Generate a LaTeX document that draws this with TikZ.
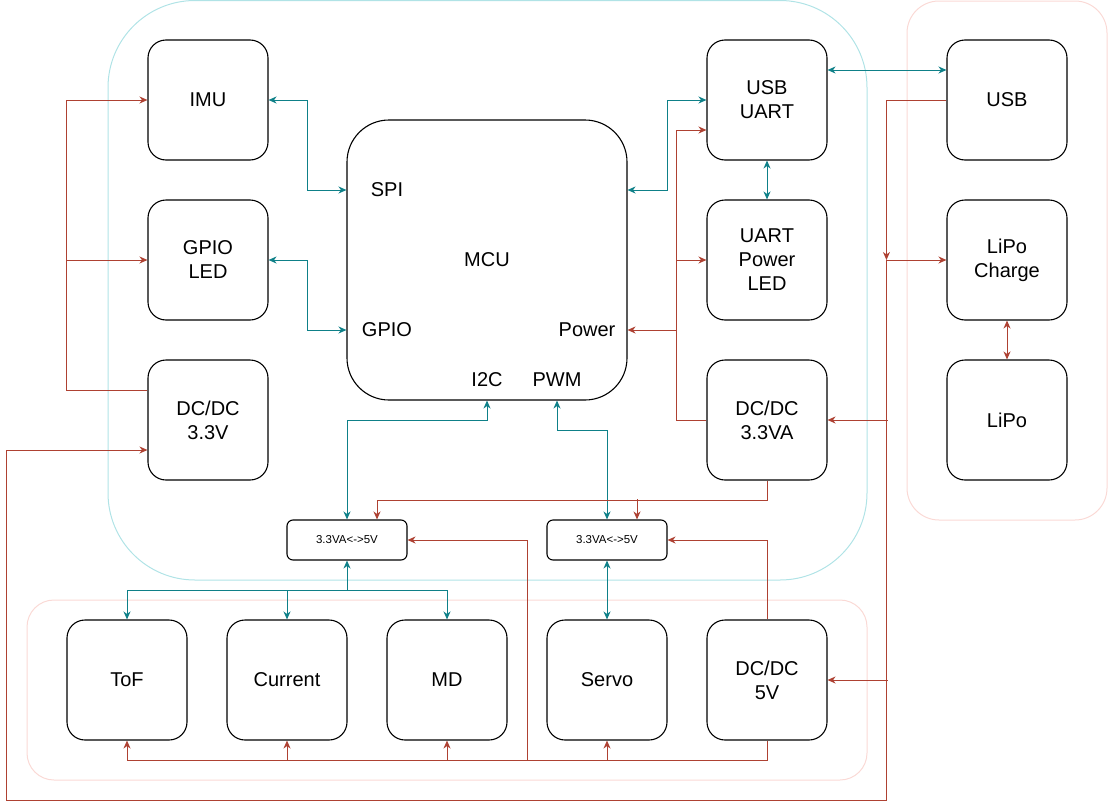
\documentclass[tikz,border=0pt]{standalone}
\usepackage{fontspec}
\setmainfont{Liberation Sans}
\usetikzlibrary{arrows.meta,calc}
\definecolor{tealc}{HTML}{0E8088}
\definecolor{redc}{HTML}{AE4132}
\definecolor{cyanbg}{HTML}{B0E3E6}
\definecolor{pinkbg}{HTML}{FAD9D5}
\tikzset{
  dio/.tip={Stealth[length=8pt,width=7pt,inset=2.5pt]},
  box/.style={draw=black, line width=1.1pt, rounded corners=18pt, minimum width=120pt, minimum height=120pt, inner sep=0pt, align=center, font=\fontsize{20}{24}\selectfont},
  lsbox/.style={box, minimum height=40pt, rounded corners=6pt, font=\fontsize{11.5}{14}\selectfont},
  mcubox/.style={box, minimum width=280pt, minimum height=280pt, rounded corners=42pt},
  lbl/.style={inner sep=0pt, font=\fontsize{20}{24}\selectfont},
  cont/.style={line width=1pt},
  tl/.style={draw=tealc, line width=1pt},
  tlb/.style={tl, dio-dio},
  tle/.style={tl, -dio},
  rd/.style={draw=redc, line width=1pt},
  rde/.style={rd, -dio},
  rdb/.style={rd, dio-dio},
}
\begin{document}
\begin{tikzpicture}[x=1pt,y=-1pt]
\useasboundingbox (0,0) rectangle (1108,811);
% containers
\draw[cont, draw=cyanbg, rounded corners=87pt] (108,0.5) rectangle (867,580);
\draw[cont, draw=pinkbg, rounded corners=32pt] (907,1) rectangle (1107,520);
\draw[cont, draw=pinkbg, rounded corners=27pt] (27,600) rectangle (867,780);
% boxes
\node[box] (imu) at (208,100) {IMU};
\node[box] (gpio) at (208,260) {GPIO\\LED};
\node[box] (dc33) at (208,420) {DC/DC\\3.3V};
\node[mcubox] (mcu) at (487,260) {MCU};
\node[lbl] (spi) at (387,190) {SPI};
\node[lbl] (gpiol) at (387,330) {GPIO};
\node[lbl] (pwr) at (587,330) {Power};
\node[lbl] (i2c) at (487,380) {I2C};
\node[lbl] (pwm) at (557,380) {PWM};
\node[box] (usbuart) at (767,100) {USB\\UART};
\node[box] (upl) at (767,260) {UART\\Power\\LED};
\node[box] (dc33a) at (767,420) {DC/DC\\3.3VA};
\node[box] (usb) at (1007,100) {USB};
\node[box] (lipoc) at (1007,260) {LiPo\\Charge};
\node[box] (lipo) at (1007,420) {LiPo};
\node[lsbox] (ls1) at (347,540) {3.3VA<->5V};
\node[lsbox] (ls2) at (607,540) {3.3VA<->5V};
\node[box] (tof) at (127,680) {ToF};
\node[box] (cur) at (287,680) {Current};
\node[box] (md) at (447,680) {MD};
\node[box] (servo) at (607,680) {Servo};
\node[box] (dc5) at (767,680) {DC/DC\\5V};
% teal connectors
\draw[tlb] (imu.east) -- ++(39,0) |- (mcu.west |- spi);
\draw[tlb] (gpio.east) -- ++(39,0) |- (mcu.west |- gpiol);
\draw[tlb] (mcu.east |- spi) -- ++(40,0) |- (usbuart.west);
\draw[tlb] ($(usbuart.east)+(0,-30)$) -- ($(usb.west)+(0,-30)$);
\draw[tlb] (usbuart.south) -- (upl.north);
\draw[tlb] (i2c |- mcu.south) -- ++(0,20) -| (ls1.north);
\draw[tlb] (pwm |- mcu.south) -- ++(0,30) -| (ls2.north);
\draw[tlb] (ls1.south) -- ++(0,30) -| (tof.north);
\draw[tle] ($(ls1.south)+(0,30)$) -| (cur.north);
\draw[tle] ($(ls1.south)+(0,30)$) -| (md.north);
\draw[tlb] (ls2.south) -- (servo.north);
% red connectors
\draw[rde] ($(dc33.west)+(0,-30)$) -- ++(-81,0) |- (imu.west);
\draw[rde] ($(gpio.west)+(-81,0)$) -- (gpio.west);
\draw[rde] (usb.west) -- ++(-60,0) -- ($(lipoc.west)+(-60,0)$);
\draw[rde] ($(lipoc.west)+(-60,0)$) -- (lipoc.west);
\draw[rde] ($(lipoc.west)+(-60,0)$) -- ($(lipoc.west)+(-60,540)$) -| ($(dc33.west)+(-141,30)$) -- ($(dc33.west)+(0,30)$);
\draw[rde] ($(dc33a.east)+(60,0)$) -- (dc33a.east);
\draw[rde] ($(dc5.east)+(60,0)$) -- (dc5.east);
\draw[rde] (dc33a.west) -- ++(-30,0) |- ($(usbuart.west)+(0,30)$);
\draw[rde] ($(upl.west)+(-30,0)$) -- (upl.west);
\draw[rde] ($(upl.west)+(-30,70)$) -- (mcu.east |- pwr);
\draw[rde] (dc33a.south) -- ++(0,20) -| ($(ls1.north)+(30,0)$);
\draw[rde] ($(ls2.north)+(30,-20)$) -- ($(ls2.north)+(30,0)$);
\draw[rde] (dc5.north) |- (ls2.east);
\draw[rde] (dc5.south) -- ++(0,20) -| (tof.south);
\draw[rde] ($(cur.south)+(0,20)$) -- (cur.south);
\draw[rde] ($(md.south)+(0,20)$) -- (md.south);
\draw[rde] ($(servo.south)+(0,20)$) -- (servo.south);
\draw[rde] ($(md.south)+(80,20)$) |- (ls1.east);
\draw[rdb] (lipoc.south) -- (lipo.north);
\end{tikzpicture}
\end{document}
